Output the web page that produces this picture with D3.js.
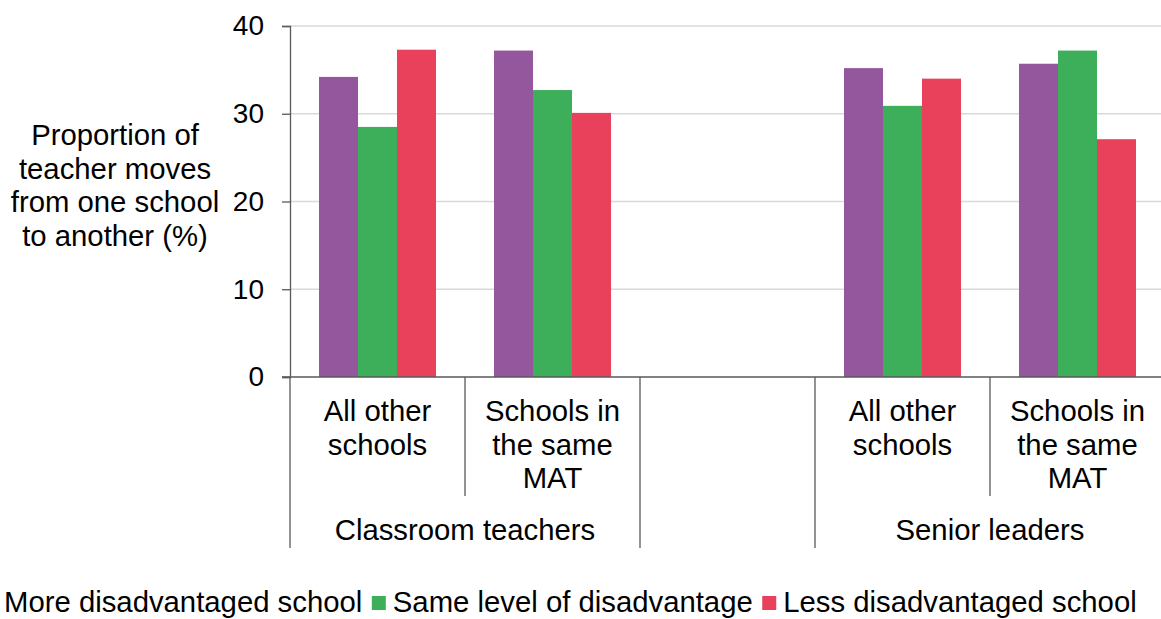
<!DOCTYPE html>
<html><head><meta charset="utf-8">
<script src="https://cdn.jsdelivr.net/npm/d3@7"></script>
<style>body{margin:0;background:#fff;overflow:hidden}svg{display:block}text{font-family:"Liberation Sans",Arial,sans-serif;fill:#000}</style>
</head><body><svg id="c" width="1161" height="619"></svg>
<script>
const groups = ["Classroom teachers", "", "Senior leaders"];
const categories = [
  {key:"ct_all", group:"Classroom teachers", label:["All other","schools"]},
  {key:"ct_mat", group:"Classroom teachers", label:["Schools in","the same","MAT"]},
  {key:"gap", group:"", label:[]},
  {key:"sl_all", group:"Senior leaders", label:["All other","schools"]},
  {key:"sl_mat", group:"Senior leaders", label:["Schools in","the same","MAT"]}
];
const seriesNames = ["More disadvantaged school","Same level of disadvantage","Less disadvantaged school"];
const moreDisadvantaged = [34.2, 37.2, null, 35.2, 35.7];
const sameLevel = [28.5, 32.7, null, 30.9, 37.2];
const lessDisadvantaged = [37.3, 30.1, null, 34.0, 27.1];
const yTicks = [0,10,20,30,40];
const yTitle = ["Proportion of","teacher moves","from one school","to another (%)"];
const colors = ["#94569c","#3daf5a","#e9405b"];
const series = [moreDisadvantaged, sameLevel, lessDisadvantaged];

const FS = "29.3px";
const svg = d3.select("#c");
const pL = 290, pR = 1165, pT = 26, pB = 377;
const x = d3.scaleBand().domain(categories.map(c=>c.key)).range([pL,pR]);
const y = d3.scaleLinear().domain([0,40]).range([pB,pT]);
const inner = d3.scaleBand().domain(d3.range(3)).range([0,117]);

// gridlines
svg.append("g").selectAll("line").data(yTicks.filter(t=>t>0)).join("line")
  .attr("x1",pL).attr("x2",pR).attr("y1",d=>y(d)).attr("y2",d=>y(d))
  .attr("stroke","#d9d9d9").attr("stroke-width",1.5);

// bars
categories.forEach((c,i)=>{
  if(c.key==="gap") return;
  const x0 = x(c.key) + (x.bandwidth()-117)/2;
  series.forEach((s,j)=>{
    svg.append("rect").attr("x",x0+inner(j)).attr("width",inner.bandwidth())
      .attr("y",y(s[i])).attr("height",y(0)-y(s[i])).attr("fill",colors[j]);
  });
});

// y axis
const ya = svg.append("g").attr("transform",`translate(${pL},0)`)
  .call(d3.axisLeft(y).tickValues(yTicks).tickSize(8).tickPadding(18));
ya.select(".domain").attr("stroke","#595959").attr("stroke-width",1.3);
ya.selectAll(".tick line").attr("stroke","#595959").attr("stroke-width",1.3);
ya.selectAll(".tick text").style("font-size","28px").style("font-family","Liberation Sans, Arial, sans-serif").attr("fill","#000");

// x axis line
svg.append("line").attr("x1",pL-8).attr("x2",pR).attr("y1",pB).attr("y2",pB)
  .attr("stroke","#595959").attr("stroke-width",1.3);

// dividers
const lineC = "#595959";
const boundaries = categories.map(c=>x(c.key)).concat([pR]);
boundaries.forEach((bx,i)=>{
  const full = (i===0||i===2||i===3||i===5);
  svg.append("line").attr("x1",bx).attr("x2",bx).attr("y1",pB).attr("y2",full?548:496)
    .attr("stroke",lineC).attr("stroke-width",1.3);
});

// category labels
categories.forEach(c=>{
  c.label.forEach((t,k)=>{
    svg.append("text").attr("x",x(c.key)+x.bandwidth()/2).attr("y",421+k*33.5)
      .attr("text-anchor","middle").style("font-size",FS).text(t);
  });
});
// group labels
["Classroom teachers","Senior leaders"].forEach(g=>{
  const ks = categories.filter(c=>c.group===g);
  const cx = (x(ks[0].key) + x(ks[ks.length-1].key)+x.bandwidth())/2;
  svg.append("text").attr("x",cx).attr("y",540).attr("text-anchor","middle")
    .style("font-size",FS).text(g);
});

// y title
yTitle.forEach((t,k)=>{
  svg.append("text").attr("x",115).attr("y",145+k*33.5).attr("text-anchor","middle")
    .style("font-size",FS).text(t);
});

// legend
let lx = -17;
seriesNames.forEach((n,j)=>{
  svg.append("rect").attr("x",lx).attr("y",596).attr("width",14).attr("height",14).attr("fill",colors[j]);
  const t = svg.append("text").attr("x",lx+21).attr("y",612).style("font-size",FS).text(n);
  lx += 21 + t.node().getComputedTextLength() + 9.5;
});
</script></body></html>
